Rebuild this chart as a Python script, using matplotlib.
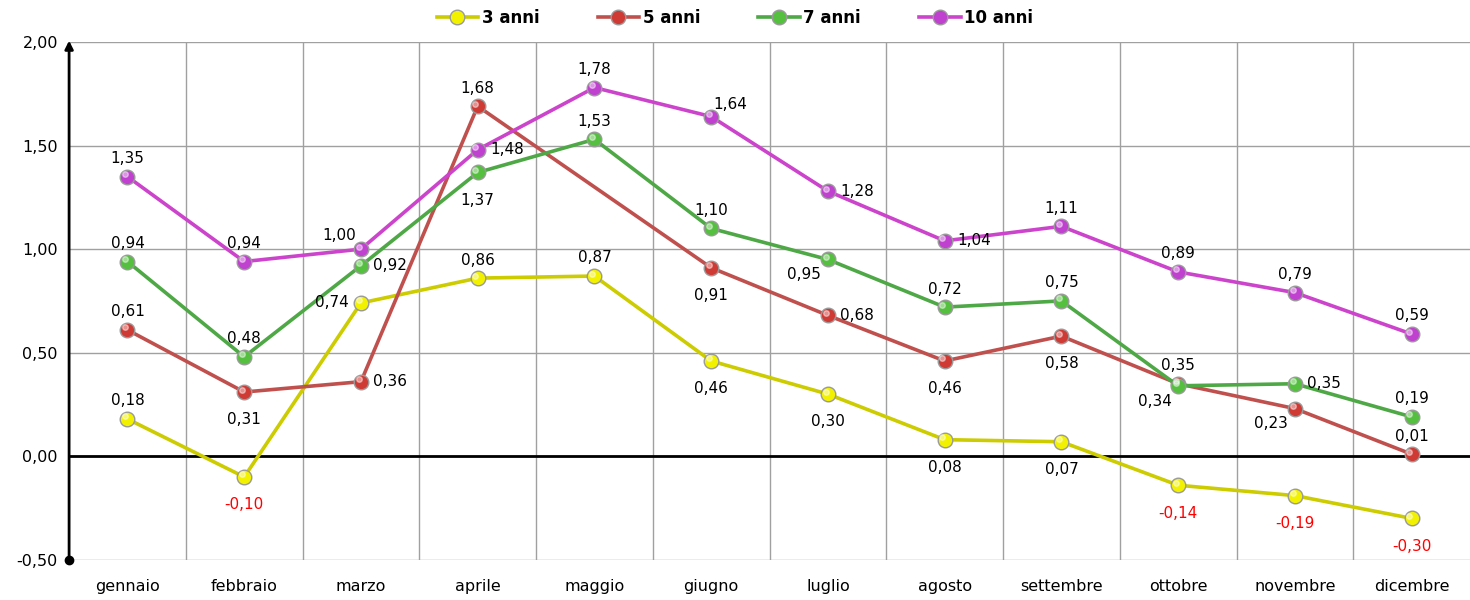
import numpy as np
from matplotlib import pyplot as plt

mesi = ['gennaio', 'febbraio', 'marzo', 'aprile', 'maggio', 'giugno',
        'luglio', 'agosto', 'settembre', 'ottobre', 'novembre', 'dicembre']

anni3 = [0.18, -0.10, 0.74, 0.86, 0.87, 0.46, 0.30, 0.08, 0.07, -0.14, -0.19, -0.30]
anni5 = [0.61, 0.31, 0.36, 1.69, np.nan, 0.91, 0.68, 0.46, 0.58, 0.35, 0.23, 0.01]
anni7 = [0.94, 0.48, 0.92, 1.37, 1.53, 1.10, 0.95, 0.72, 0.75, 0.34, 0.35, 0.19]
anni10 = [1.35, 0.94, 1.00, 1.48, 1.78, 1.64, 1.28, 1.04, 1.11, 0.89, 0.79, 0.59]

etichette = ['3 anni', '5 anni', '7 anni', '10 anni']

# posizione delle etichette: a=sopra, b=sotto, r=destra, l=sinistra
pos3 = ['a', 'b', 'l', 'a', 'a', 'b', 'b', 'b', 'b', 'b', 'b', 'b']
pos5 = ['a', 'b', 'r', 'a', 'a', 'b', 'r', 'b', 'b', 'a', 'bl', 'a']
pos7 = ['a', 'a', 'r', 'b', 'a', 'a', 'bl', 'a', 'a', 'bl', 'r', 'a']
pos10 = ['a', 'a', 'la', 'r', 'a', 'ra', 'r', 'r', 'a', 'a', 'a', 'a']

linee = ['#CCCC00', '#C0504D', '#4EA845', '#CC44CC']
pallini = ['#F2F200', '#D03A35', '#55C040', '#C040D0']

offset = {'a': (0, 13), 'b': (0, -20), 'r': (21, 0), 'l': (-21, 0),
          'bl': (-17, -11), 'la': (-16, 10), 'ra': (14, 9)}

fig = plt.figure(figsize=(14.7, 6), dpi=100)
ax = fig.add_axes([0.047, 0.067, 0.953, 0.863])
x = np.arange(len(mesi))

serie = [anni3, anni5, anni7, anni10]
posizioni = [pos3, pos5, pos7, pos10]
for s, p, lc, mc, lab in zip(serie, posizioni, linee, pallini, etichette):
    s = np.array(s, dtype=float)
    ok = ~np.isnan(s)
    ax.plot(x[ok], s[ok], color=lc, lw=2.6, marker='o', markersize=10.5,
            markerfacecolor=mc, markeredgecolor='#9a9a9a', markeredgewidth=1,
            label=lab, zorder=3)
    # riflesso lucido
    ax.plot(x[ok] - 0.02, s[ok] + 0.012, 'o', color='white', alpha=0.45,
            markersize=4, zorder=4)
    for i in range(len(s)):
        if np.isnan(s[i]):
            continue
        dx, dy = offset[p[i]]
        txt = '{:.2f}'.format(s[i]).replace('.', ',')
        if txt == '1,69':
            txt = '1,68'
        col = 'red' if s[i] < 0 else 'black'
        ax.annotate(txt, (x[i], s[i]), xytext=(dx, dy), textcoords='offset points',
                    ha='center', va='center', fontsize=11, color=col, zorder=5)

ax.set_xlim(-0.5, 11.5)
ax.set_ylim(-0.5, 2.0)
ax.set_xticks(x)
ax.set_xticklabels(mesi, fontsize=11.5)
yt = [-0.5, 0, 0.5, 1.0, 1.5, 2.0]
ax.set_yticks(yt)
ax.set_yticklabels(['{:.2f}'.format(v).replace('.', ',') for v in yt], fontsize=11.5)
ax.tick_params(length=0, pad=8)
ax.tick_params(axis='x', pad=14)
for v in yt:
    ax.axhline(v, color='#a0a0a0', lw=1, zorder=1)
for k in range(1, 12):
    ax.axvline(k - 0.5, color='#a0a0a0', lw=1, zorder=1)
ax.axhline(0, color='black', lw=2, zorder=2)
for sp in ['top', 'right', 'bottom', 'left']:
    ax.spines[sp].set_visible(False)
ax.annotate('', xy=(-0.5, 2.02), xytext=(-0.5, -0.5),
            arrowprops=dict(arrowstyle='-|>', color='black', lw=2, mutation_scale=12),
            annotation_clip=False, zorder=6)
ax.plot([-0.5], [-0.5], 'o', color='black', markersize=6, clip_on=False, zorder=6)

leg = fig.legend(loc='upper center', bbox_to_anchor=(0.5, 1.01), ncol=4, frameon=False,
                 prop={'weight': 'bold', 'size': 12}, handlelength=2.5, columnspacing=3.5,
                 handletextpad=0.2)

plt.savefig('out.png', dpi=100)
